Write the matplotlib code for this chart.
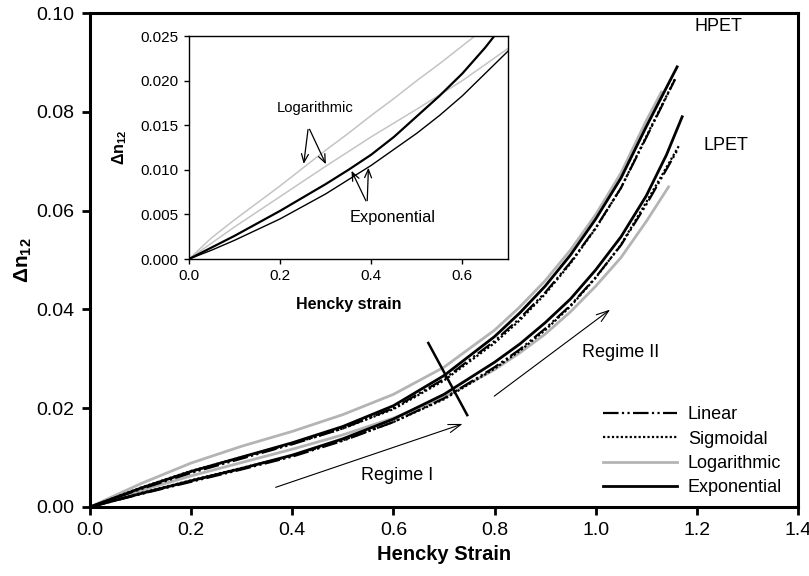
import matplotlib
matplotlib.use("Agg")
import matplotlib.pyplot as plt

plt.rcParams['font.family'] = ['Liberation Sans', 'DejaVu Sans']
plt.rcParams['mathtext.fontset'] = 'custom'
plt.rcParams['mathtext.rm'] = 'Liberation Sans'
plt.rcParams['mathtext.bf'] = 'Liberation Sans:bold'
plt.rcParams['mathtext.it'] = 'Liberation Sans:italic'

# ---------------- main plot data ----------------
hpet_exp_x = [0, 0.1, 0.2, 0.3, 0.4, 0.5, 0.6, 0.7, 0.8, 0.85, 0.9, 0.95, 1.0, 1.05, 1.1, 1.161]
hpet_exp_y = [0, 0.0038, 0.0072, 0.0101, 0.0130, 0.0163, 0.0205, 0.0266, 0.0345, 0.0393, 0.0447, 0.0510, 0.0583, 0.0666, 0.0770, 0.0891]
hpet_log_x = [0, 0.1, 0.2, 0.3, 0.4, 0.5, 0.6, 0.7, 0.8, 0.85, 0.9, 0.95, 1.0, 1.05, 1.1, 1.13]
hpet_log_y = [0, 0.0047, 0.0089, 0.0123, 0.0153, 0.0187, 0.0228, 0.0283, 0.0358, 0.0405, 0.0458, 0.0520, 0.0592, 0.0676, 0.0782, 0.0840]
hpet_lin_x = [0, 0.1, 0.2, 0.3, 0.4, 0.5, 0.6, 0.7, 0.8, 0.85, 0.9, 0.95, 1.0, 1.05, 1.1, 1.157]
hpet_lin_y = [0, 0.0036, 0.0069, 0.0098, 0.0127, 0.0159, 0.0200, 0.0259, 0.0336, 0.0382, 0.0434, 0.0495, 0.0565, 0.0646, 0.0748, 0.0866]
hpet_sig_x = [0, 0.1, 0.2, 0.3, 0.4, 0.5, 0.6, 0.7, 0.8, 0.85, 0.9, 0.95, 1.0, 1.05, 1.1, 1.158]
hpet_sig_y = [0, 0.0039, 0.0073, 0.0101, 0.0128, 0.0159, 0.0198, 0.0256, 0.0332, 0.0378, 0.0431, 0.0493, 0.0564, 0.0646, 0.0750, 0.0869]

lpet_exp_x = [0, 0.1, 0.2, 0.3, 0.4, 0.5, 0.6, 0.7, 0.8, 0.85, 0.9, 0.95, 1.0, 1.05, 1.1, 1.14, 1.171]
lpet_exp_y = [0, 0.0027, 0.0053, 0.0078, 0.0105, 0.0138, 0.0178, 0.0228, 0.0293, 0.0330, 0.0373, 0.0421, 0.0480, 0.0547, 0.0630, 0.0713, 0.0790]
lpet_log_x = [0, 0.1, 0.2, 0.3, 0.4, 0.5, 0.6, 0.7, 0.8, 0.85, 0.9, 0.95, 1.0, 1.05, 1.1, 1.144]
lpet_log_y = [0, 0.0033, 0.0063, 0.0090, 0.0117, 0.0146, 0.0180, 0.0222, 0.0278, 0.0312, 0.0350, 0.0395, 0.0447, 0.0505, 0.0578, 0.0648]
lpet_lin_x = [0, 0.1, 0.2, 0.3, 0.4, 0.5, 0.6, 0.7, 0.8, 0.85, 0.9, 0.95, 1.0, 1.05, 1.1, 1.163]
lpet_lin_y = [0, 0.0026, 0.0051, 0.0076, 0.0102, 0.0134, 0.0172, 0.0220, 0.0283, 0.0319, 0.0361, 0.0408, 0.0465, 0.0530, 0.0612, 0.0725]
lpet_sig_x = [0, 0.1, 0.2, 0.3, 0.4, 0.5, 0.6, 0.7, 0.8, 0.85, 0.9, 0.95, 1.0, 1.05, 1.1, 1.165]
lpet_sig_y = [0, 0.0028, 0.0054, 0.0079, 0.0104, 0.0135, 0.0172, 0.0218, 0.0280, 0.0316, 0.0358, 0.0406, 0.0464, 0.0531, 0.0617, 0.0732]

# ---------------- inset data ----------------
in_logA_x = [0, 0.05, 0.1, 0.15, 0.2, 0.25, 0.3, 0.35, 0.4, 0.45, 0.5, 0.55, 0.6, 0.64]
in_logA_y = [0, 0.0024, 0.0044, 0.0063, 0.0082, 0.0102, 0.0122, 0.0141, 0.0161, 0.0180, 0.0200, 0.0219, 0.0239, 0.0255]
in_logB_x = [0, 0.05, 0.1, 0.2, 0.3, 0.4, 0.5, 0.6, 0.7]
in_logB_y = [0, 0.0018, 0.0036, 0.0070, 0.0104, 0.0137, 0.0168, 0.0200, 0.0236]
in_expA_x = [0, 0.05, 0.1, 0.15, 0.2, 0.25, 0.3, 0.35, 0.4, 0.45, 0.5, 0.55, 0.6, 0.65, 0.67]
in_expA_y = [0, 0.0013, 0.0026, 0.0040, 0.0054, 0.0069, 0.0084, 0.0100, 0.0117, 0.0137, 0.0160, 0.0183, 0.0208, 0.0237, 0.0250]
in_expB_x = [0, 0.05, 0.1, 0.15, 0.2, 0.25, 0.3, 0.35, 0.4, 0.45, 0.5, 0.55, 0.6, 0.65, 0.7]
in_expB_y = [0, 0.0010, 0.0021, 0.0033, 0.0045, 0.0059, 0.0073, 0.0089, 0.0105, 0.0123, 0.0141, 0.0161, 0.0183, 0.0208, 0.0233]

x_ticks = [0.0, 0.2, 0.4, 0.6, 0.8, 1.0, 1.2, 1.4]
y_ticks = [0.00, 0.02, 0.04, 0.06, 0.08, 0.10]
in_x_ticks = [0.0, 0.2, 0.4, 0.6]
in_y_ticks = [0.000, 0.005, 0.010, 0.015, 0.020, 0.025]

GRAY = '#b4b4b4'
LIN = (0, (7, 1.5, 1, 1.5, 1, 1.5))
SIG = (0, (1, 1))

fig = plt.figure(figsize=(8.09, 5.76), dpi=100)
ax = fig.add_axes([0.1112, 0.1198, 0.8752, 0.8576])

for xs, ys in [(hpet_log_x, hpet_log_y), (lpet_log_x, lpet_log_y)]:
    ax.plot(xs, ys, color=GRAY, lw=2.0)
for xs, ys in [(hpet_lin_x, hpet_lin_y), (lpet_lin_x, lpet_lin_y)]:
    ax.plot(xs, ys, color='black', lw=1.6, ls=LIN)
for xs, ys in [(hpet_sig_x, hpet_sig_y), (lpet_sig_x, lpet_sig_y)]:
    ax.plot(xs, ys, color='black', lw=1.6, ls=SIG)
for xs, ys in [(hpet_exp_x, hpet_exp_y), (lpet_exp_x, lpet_exp_y)]:
    ax.plot(xs, ys, color='black', lw=2.0)

# legend handles
h1, = ax.plot([], [], color='black', lw=1.6, ls=LIN, label='Linear')
h2, = ax.plot([], [], color='black', lw=1.6, ls=SIG, label='Sigmoidal')
h3, = ax.plot([], [], color=GRAY, lw=2.0, label='Logarithmic')
h4, = ax.plot([], [], color='black', lw=2.0, label='Exponential')
ax.legend(handles=[h1, h2, h3, h4], loc='lower left', bbox_to_anchor=(0.7246, 0.022),
          frameon=False, fontsize=13, handlelength=4.1, handletextpad=0.6,
          labelspacing=0.4, borderpad=0, borderaxespad=0)

ax.set_xlim(0, 1.4)
ax.set_ylim(0, 0.10)
ax.set_xticks(x_ticks)
ax.set_xticklabels([f'{v:.1f}' for v in x_ticks])
ax.set_yticks(y_ticks)
ax.set_yticklabels([f'{v:.2f}' for v in y_ticks])
ax.tick_params(direction='out', length=6, width=2, labelsize=14, pad=5, top=False, right=False)
for s in ax.spines.values():
    s.set_linewidth(2.2)
ax.set_xlabel('Hencky Strain', fontsize=14.5, fontweight='bold', labelpad=4)
ax.set_ylabel(r'$\mathbf{\Delta n_{12}}$', fontsize=15, labelpad=2)

# annotations
ax.text(1.242, 0.0972, 'HPET', fontsize=13, ha='center', va='center')
ax.text(1.258, 0.0731, 'LPET', fontsize=13, ha='center', va='center')
ax.text(0.607, 0.0063, 'Regime I', fontsize=13, ha='center', va='center')
ax.text(1.050, 0.0312, 'Regime II', fontsize=13, ha='center', va='center')
arrow_kw = dict(arrowstyle='->,head_length=0.9,head_width=0.3', lw=0.8, color='black')
ax.annotate('', xy=(0.742, 0.0170), xytext=(0.362, 0.0038), arrowprops=arrow_kw)
ax.annotate('', xy=(1.033, 0.0403), xytext=(0.795, 0.0221), arrowprops=arrow_kw)
ax.plot([0.669, 0.746], [0.0332, 0.0186], color='black', lw=1.8)

# ---------------- inset ----------------
ins = fig.add_axes([0.2336, 0.5503, 0.3943, 0.3872])
ins.plot(in_logA_x, in_logA_y, color='#c4c4c4', lw=1.1)
ins.plot(in_logB_x, in_logB_y, color='#c4c4c4', lw=1.1)
ins.plot(in_expA_x, in_expA_y, color='black', lw=1.6)
ins.plot(in_expB_x, in_expB_y, color='black', lw=1.0)
ins.set_xlim(0, 0.7)
ins.set_ylim(0, 0.025)
ins.set_xticks(in_x_ticks)
ins.set_xticklabels([f'{v:.1f}' for v in in_x_ticks])
ins.set_yticks(in_y_ticks)
ins.set_yticklabels([f'{v:.3f}' for v in in_y_ticks])
ins.tick_params(direction='out', length=3.5, width=1, labelsize=11, pad=4, top=False, right=False)
for s in ins.spines.values():
    s.set_linewidth(1.0)
ins.set_xlabel('Hencky strain', fontsize=11.5, fontweight='bold', labelpad=10)
ins.set_ylabel(r'$\mathbf{\Delta n_{12}}$', fontsize=11.5, labelpad=8)

ins.text(0.277, 0.0169, 'Logarithmic', fontsize=10.6, ha='center', va='center')
ins.text(0.446, 0.0047, 'Exponential', fontsize=11.8, ha='center', va='center')
akw = dict(arrowstyle='->,head_length=0.6,head_width=0.25', lw=0.9, color='black')
ins.annotate('', xy=(0.251, 0.01035), xytext=(0.262, 0.01483), arrowprops=akw)
ins.annotate('', xy=(0.303, 0.01035), xytext=(0.262, 0.01483), arrowprops=akw)
ins.annotate('', xy=(0.354, 0.01017), xytext=(0.391, 0.00624), arrowprops=akw)
ins.annotate('', xy=(0.394, 0.01054), xytext=(0.391, 0.00624), arrowprops=akw)

fig.savefig('out.png', dpi=100)
